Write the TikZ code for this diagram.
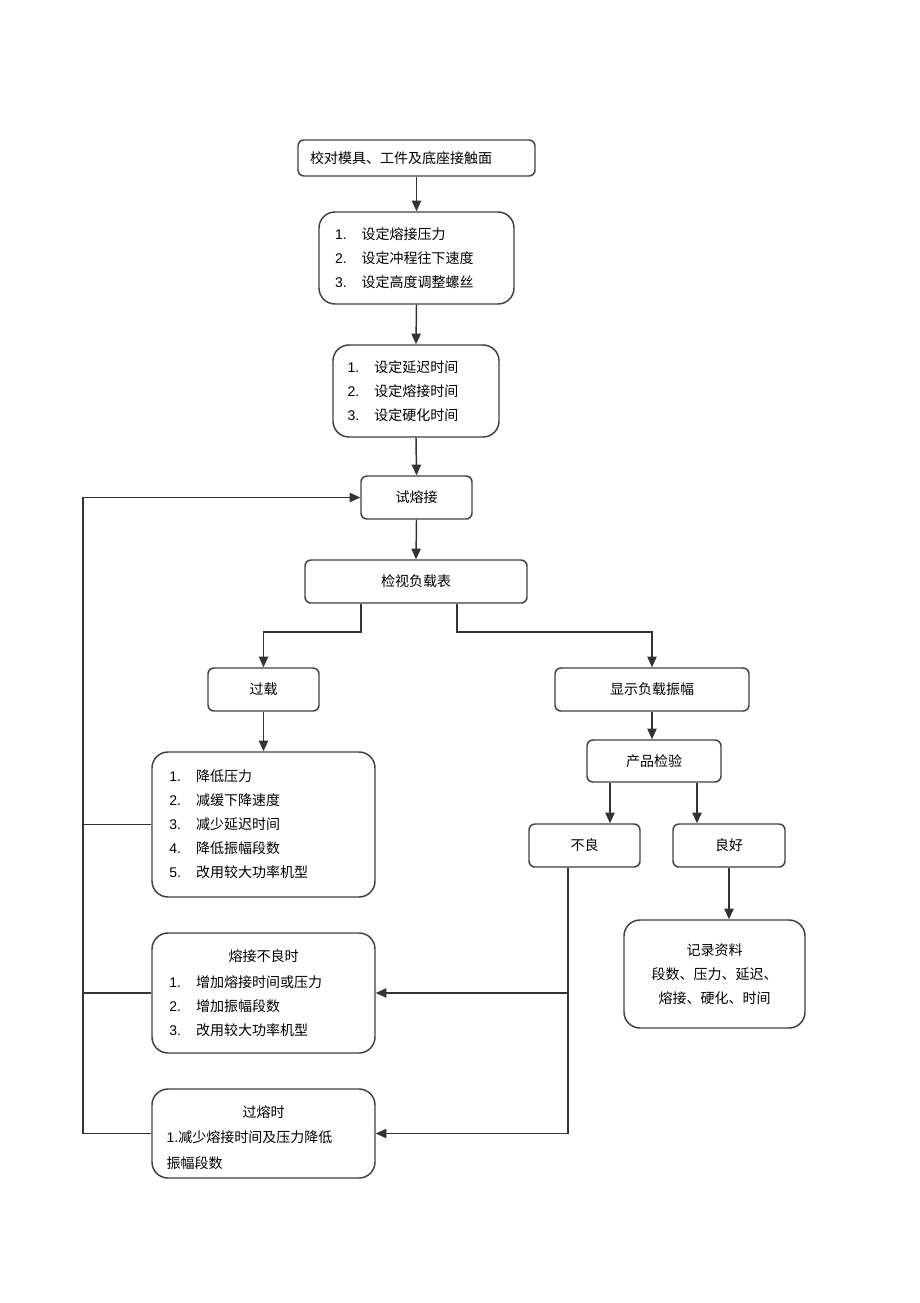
\documentclass[tikz,border=0pt]{standalone}
\usepackage{fontspec}
\setmainfont{Noto Sans CJK SC}
\newfontfamily\latinfont{Liberation Sans}
\usetikzlibrary{arrows.meta}
\newcommand{\itm}[2]{\makebox[20pt][l]{\latinfont #1}#2}
\newcommand{\boxtitle}[1]{\noindent\makebox[\hsize]{#1}}

\tikzset{every picture/.style={line width=1.1pt}}

\begin{document}
\begin{tikzpicture}[x=0.75pt,y=0.75pt,yscale=-1,xscale=1,
  box/.style={draw=black!75, rounded corners=4.5pt, inner sep=0pt, minimum height=32.25pt, font=\fontsize{10.5}{18}\selectfont},
  bigbox/.style={box, rounded corners=12pt, align=left},
  arr/.style={draw=black!80, -{Triangle[length=8pt,width=7pt]}},
  link/.style={draw=black!80}]
\useasboundingbox (0,0) rectangle (920,1303);

%Shape: Rounded Rect [align]
\node (align) at (416.5,158) [box, align=left, inner xsep=9pt, text width=159.75pt, minimum height=27pt] {校对模具、工件及底座接触面};
%Shape: Rounded Rect [press]
\node (press) at (416.5,258) [bigbox, inner xsep=12pt, text width=122.25pt, minimum height=69pt] {\itm{1.}{设定熔接压力}\\ \itm{2.}{设定冲程往下速度}\\ \itm{3.}{设定高度调整螺丝}};
%Shape: Rounded Rect [delay]
\node (delay) at (416,391) [bigbox, inner xsep=11pt, text width=102.5pt, minimum height=69pt] {\itm{1.}{设定延迟时间}\\ \itm{2.}{设定熔接时间}\\ \itm{3.}{设定硬化时间}};
%Shape: Rounded Rect [trial]
\node (trial) at (416.5,497.5) [box, minimum width=83.25pt] {试熔接};
%Shape: Rounded Rect [load]
\node (load) at (416,581.5) [box, minimum width=166.5pt] {检视负载表};
%Shape: Rounded Rect [over]
\node (over) at (263.5,689.5) [box, minimum width=83.25pt] {过载};
%Shape: Rounded Rect [amp]
\node (amp) at (652,689.5) [box, minimum width=145.5pt] {显示负载振幅};
%Shape: Rounded Rect [inspect]
\node (inspect) at (654,761) [box, minimum width=100.5pt, minimum height=31.5pt] {产品检验};
%Shape: Rounded Rect [bad]
\node (bad) at (584.5,845.5) [box, minimum width=83.25pt] {不良};
%Shape: Rounded Rect [good]
\node (good) at (729,845.5) [box, minimum width=84pt] {良好};

%Shape: Rounded Rect [fixA]
\node (fixA) at (263.5,824.5) [bigbox, inner xsep=13pt, text width=141.25pt, minimum height=108.75pt] {\itm{1.}{降低压力}\\ \itm{2.}{减缓下降速度}\\ \itm{3.}{减少延迟时间}\\ \itm{4.}{降低振幅段数}\\ \itm{5.}{改用较大功率机型}};
%Shape: Rounded Rect [fixB]
\node (fixB) at (263.5,993) [bigbox, inner xsep=13pt, text width=141.25pt, minimum height=90pt] {\boxtitle{熔接不良时}\\[2pt] \itm{1.}{增加熔接时间或压力}\\ \itm{2.}{增加振幅段数}\\ \itm{3.}{改用较大功率机型}};
%Shape: Rounded Rect [fixC]
\node (fixC) at (263.5,1133.5) [bigbox, inner xsep=11pt, text width=145.25pt, minimum height=66.75pt] {\boxtitle{\rule{0pt}{15pt}过熔时}\\[1pt] {\latinfont 1.}减少熔接时间及压力降低\\[1pt] 振幅段数};
%Shape: Rounded Rect [record]
\node (record) at (714.5,974) [bigbox, align=center, inner xsep=12pt, text width=111.75pt, minimum height=81pt] {记录资料\\ 段数、压力、延迟、\\ 熔接、硬化、时间};

% Connectors
\coordinate (splitL) at (361,632);
\coordinate (splitR) at (457,632);
\coordinate (tapB) at (610,0);
\coordinate (tapG) at (697,0);
\coordinate (badline) at (568,0);
\coordinate (loop) at (83,0);

\draw[arr] (align.south) -- (press.north);
\draw[arr] (press.south) -- (delay.north);
\draw[arr] (delay.south) -- (trial.north);
\draw[arr] (trial.south) -- (load.north);
\draw[arr] (load.south -| splitL) -- (splitL) -| (over.north);
\draw[arr] (load.south -| splitR) -- (splitR) -| (amp.north);
\draw[arr] (over.south) -- (fixA.north);
\draw[arr] (amp.south) -- (amp.south |- inspect.north);
\draw[arr] (inspect.south -| tapB) -- (bad.north -| tapB);
\draw[arr] (inspect.south -| tapG) -- (good.north -| tapG);
\draw[arr] (good.south) -- (good.south |- record.north);
\draw[arr] (bad.south -| badline) |- (fixC.east);
\draw[arr] (fixB.east -| badline) -- (fixB.east);

% Feedback loop
\draw[arr] (fixC.west) -| (loop |- trial.west) -- (trial.west);
\draw[link] (fixA.west) -- (fixA.west -| loop);
\draw[link] (fixB.west) -- (fixB.west -| loop);

\end{tikzpicture}
\end{document}
